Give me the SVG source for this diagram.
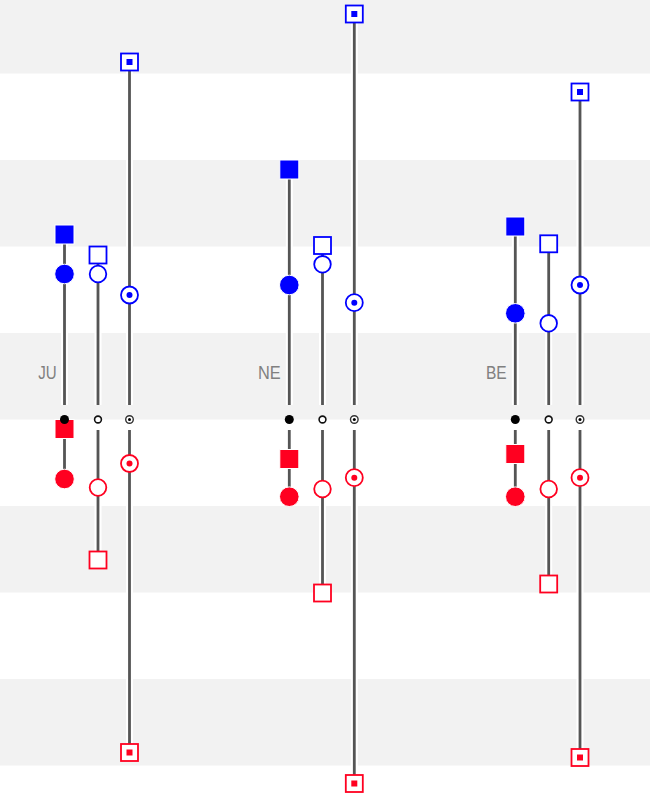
<svg xmlns="http://www.w3.org/2000/svg" width="650" height="800" viewBox="0 0 650 800">
<style>
.band{fill:#f2f2f2}
.halo{stroke:#ffffff;stroke-width:7;fill:none}
.ln{stroke:#555555;stroke-width:2.8;fill:none}
.lbl{font-family:"Liberation Sans",Arial,sans-serif;font-size:18px;fill:#808080}
.bF{fill:#0000ff;stroke:#ffffff;stroke-width:1}
.rF{fill:#ff0020;stroke:#ffffff;stroke-width:1}
.bH{fill:#ffffff;stroke:#0000ff;stroke-width:1.8}
.rH{fill:#ffffff;stroke:#ff0020;stroke-width:1.8}
.bD{fill:#0000ff}
.rD{fill:#ff0020}
.ax1{fill:#000000}
.ax2{fill:#ffffff;stroke:#111111;stroke-width:1.6}
.ax3{fill:#ffffff;stroke:#333333;stroke-width:1.4}
</style>
<rect x="0" y="0" width="650" height="800" fill="#ffffff"/>
<g id="bands">
<rect class="band" x="0" y="-13" width="650" height="86.5"/>
<rect class="band" x="0" y="160" width="650" height="86.5"/>
<rect class="band" x="0" y="333" width="650" height="86.5"/>
<rect class="band" x="0" y="506" width="650" height="86.5"/>
<rect class="band" x="0" y="679" width="650" height="86.5"/>
</g>
<g id="connectors">
<path class="halo" d="M64.5 234V405M64.5 430V479M98 255V405M98 430V560M129.5 62V405M129.5 430V752.5"/>
<path class="halo" d="M289.3 169.5V405M289.3 430V496.7M322.5 245.5V405M322.5 430V593M354.3 14V405M354.3 430V783.5"/>
<path class="halo" d="M515.3 226.5V405M515.3 430V496.7M548.7 243.8V405M548.7 430V584M580 92V405M580 430V757.5"/>
<path class="ln" d="M64.5 234V405M64.5 430V479M98 255V405M98 430V560M129.5 62V405M129.5 430V752.5"/>
<path class="ln" d="M289.3 169.5V405M289.3 430V496.7M322.5 245.5V405M322.5 430V593M354.3 14V405M354.3 430V783.5"/>
<path class="ln" d="M515.3 226.5V405M515.3 430V496.7M548.7 243.8V405M548.7 430V584M580 92V405M580 430V757.5"/>
</g>
<g id="labels">
<text class="lbl" x="38.3" y="378.5" textLength="18.4" lengthAdjust="spacingAndGlyphs">JU</text>
<text class="lbl" x="258" y="378.5" textLength="22.7" lengthAdjust="spacingAndGlyphs">NE</text>
<text class="lbl" x="486" y="378.5" textLength="20.7" lengthAdjust="spacingAndGlyphs">BE</text>
</g>
<g id="JU">
<g id="JU-blue">
<rect class="bF" x="55" y="225" width="19" height="19"/>
<circle class="bF" cx="64.5" cy="274" r="9.8"/>
<rect class="bH" x="89.5" y="246.5" width="17" height="17"/>
<circle class="bH" cx="98" cy="274" r="8.3"/>
<circle class="bH" cx="129.5" cy="295" r="8.5"/><circle class="bD" cx="129.5" cy="295" r="3"/>
<rect class="bH" x="121" y="53.5" width="17" height="17"/><rect class="bD" x="126.5" y="59" width="6" height="6"/>
</g>
<g id="JU-red">
<rect class="rF" x="55" y="419.5" width="19" height="19"/>
<circle class="rF" cx="64.5" cy="479" r="9.8"/>
<circle class="rH" cx="98" cy="487.5" r="8.3"/>
<rect class="rH" x="89.5" y="551.5" width="17" height="17"/>
<circle class="rH" cx="129.5" cy="463.5" r="8.5"/><circle class="rD" cx="129.5" cy="463.5" r="3"/>
<rect class="rH" x="121" y="744" width="17" height="17"/><rect class="rD" x="126.5" y="749.5" width="6" height="6"/>
</g>
<g id="JU-axis">
<circle class="ax1" cx="64.5" cy="419.5" r="4.5"/>
<circle class="ax2" cx="98" cy="419.5" r="3.4"/>
<circle class="ax3" cx="129.5" cy="419.5" r="3.8"/><circle class="ax1" cx="129.5" cy="419.5" r="1.5"/>
</g>
</g>
<g id="NE">
<g id="NE-blue">
<rect class="bF" x="279.8" y="160" width="19" height="19"/>
<circle class="bF" cx="289.3" cy="285" r="9.8"/>
<rect class="bH" x="314" y="237" width="17" height="17"/>
<circle class="bH" cx="322.5" cy="264.3" r="8.3"/>
<circle class="bH" cx="354.3" cy="302.7" r="8.5"/><circle class="bD" cx="354.3" cy="302.7" r="3"/>
<rect class="bH" x="345.8" y="5.5" width="17" height="17"/><rect class="bD" x="351.3" y="11" width="6" height="6"/>
</g>
<g id="NE-red">
<rect class="rF" x="279.8" y="449.5" width="19" height="19"/>
<circle class="rF" cx="289.3" cy="496.7" r="9.8"/>
<circle class="rH" cx="322.5" cy="489" r="8.3"/>
<rect class="rH" x="314" y="584.5" width="17" height="17"/>
<circle class="rH" cx="354.3" cy="477.7" r="8.5"/><circle class="rD" cx="354.3" cy="477.7" r="3"/>
<rect class="rH" x="345.8" y="775" width="17" height="17"/><rect class="rD" x="351.3" y="780.5" width="6" height="6"/>
</g>
<g id="NE-axis">
<circle class="ax1" cx="289.3" cy="419.5" r="4.5"/>
<circle class="ax2" cx="322.5" cy="419.5" r="3.4"/>
<circle class="ax3" cx="354.3" cy="419.5" r="3.8"/><circle class="ax1" cx="354.3" cy="419.5" r="1.5"/>
</g>
</g>
<g id="BE">
<g id="BE-blue">
<rect class="bF" x="505.8" y="217" width="19" height="19"/>
<circle class="bF" cx="515.3" cy="313.3" r="9.8"/>
<rect class="bH" x="540.2" y="235.3" width="17" height="17"/>
<circle class="bH" cx="548.7" cy="323.3" r="8.3"/>
<circle class="bH" cx="580" cy="285" r="8.5"/><circle class="bD" cx="580" cy="285" r="3"/>
<rect class="bH" x="571.5" y="83.5" width="17" height="17"/><rect class="bD" x="577" y="89" width="6" height="6"/>
</g>
<g id="BE-red">
<rect class="rF" x="505.8" y="444.5" width="19" height="19"/>
<circle class="rF" cx="515.3" cy="496.7" r="9.8"/>
<circle class="rH" cx="548.7" cy="489" r="8.3"/>
<rect class="rH" x="540.2" y="575.5" width="17" height="17"/>
<circle class="rH" cx="580" cy="477.7" r="8.5"/><circle class="rD" cx="580" cy="477.7" r="3"/>
<rect class="rH" x="571.5" y="749" width="17" height="17"/><rect class="rD" x="577" y="754.5" width="6" height="6"/>
</g>
<g id="BE-axis">
<circle class="ax1" cx="515.3" cy="419.5" r="4.5"/>
<circle class="ax2" cx="548.7" cy="419.5" r="3.4"/>
<circle class="ax3" cx="580" cy="419.5" r="3.8"/><circle class="ax1" cx="580" cy="419.5" r="1.5"/>
</g>
</g>
</svg>
